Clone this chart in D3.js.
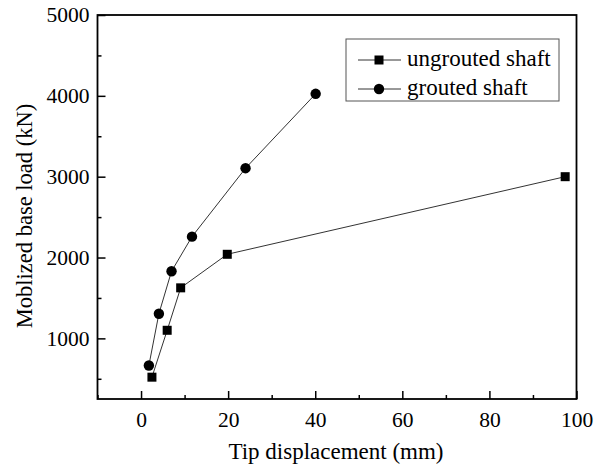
<!DOCTYPE html>
<html>
<head>
<meta charset="utf-8">
<script src="https://cdn.jsdelivr.net/npm/d3@7"></script>
<style>
  body { margin: 0; background: #fff; }
</style>
</head>
<body>
<svg width="603" height="468"></svg>
<script>
var width = 603, height = 468;
var FONT = "Liberation Serif";

// values
var ungroutedX = [2.5, 6, 9.1, 19.8, 97.4];
var ungroutedY = [520, 1100, 1625, 2040, 3000];
var groutedX = [1.8, 4.1, 7, 11.7, 24, 40.1];
var groutedY = [665, 1305, 1830, 2258, 3105, 4025];
var xTicks = [0, 20, 40, 60, 80, 100];
var yTicks = [1000, 2000, 3000, 4000, 5000];
var seriesNames = ["ungrouted shaft", "grouted shaft"];

var margin = {left: 97.5, right: 26.5, top: 15, bottom: 69};
var svg = d3.select("svg");

var x = d3.scaleLinear().domain([-10, 100]).range([margin.left, width - margin.right]);
var y = d3.scaleLinear().domain([250, 5000]).range([height - margin.bottom, margin.top]);

var g = svg.append("g");

// minor ticks first
var xMinor = d3.range(-10, 101, 10).filter(function (d) { return xTicks.indexOf(d) < 0; });
var yMinor = d3.range(500, 5001, 500).filter(function (d) { return yTicks.indexOf(d) < 0; });

g.append("g")
    .attr("transform", "translate(0," + y.range()[0] + ")")
    .call(d3.axisBottom(x).tickValues(xMinor).tickSize(-4).tickFormat(""));
g.append("g")
    .attr("transform", "translate(" + x.range()[0] + ",0)")
    .call(d3.axisLeft(y).tickValues(yMinor).tickSize(-4).tickFormat(""));

g.append("g")
    .attr("transform", "translate(0," + y.range()[0] + ")")
    .call(d3.axisBottom(x).tickValues(xTicks).tickSize(-8).tickPadding(13).tickFormat(d3.format("d")));
g.append("g")
    .attr("transform", "translate(" + x.range()[0] + ",0)")
    .call(d3.axisLeft(y).tickValues(yTicks).tickSize(-8).tickPadding(8).tickFormat(d3.format("d")));

svg.selectAll(".domain").remove();
svg.selectAll(".tick line").attr("stroke", "#000").attr("stroke-width", 1.5);
svg.selectAll(".tick text")
    .attr("font-size", 21.5)
    .attr("font-family", FONT)
    .attr("fill", "#000");

// frame
g.append("rect")
    .attr("x", x.range()[0]).attr("y", y.range()[1])
    .attr("width", x.range()[1] - x.range()[0])
    .attr("height", y.range()[0] - y.range()[1])
    .attr("fill", "none").attr("stroke", "#000").attr("stroke-width", 1.8);

// axis titles
svg.append("text")
    .attr("x", 336)
    .attr("y", 459)
    .attr("text-anchor", "middle")
    .attr("font-family", FONT)
    .attr("font-size", 23)
    .text("Tip displacement (mm)");
svg.append("text")
    .attr("transform", "translate(32,216) rotate(-90)")
    .attr("text-anchor", "middle")
    .attr("font-family", FONT)
    .attr("font-size", 22.5)
    .text("Moblized base load (kN)");

var line = d3.line().x(function (d) { return x(d[0]); }).y(function (d) { return y(d[1]); });
var ungrouted = d3.zip(ungroutedX, ungroutedY);
var grouted = d3.zip(groutedX, groutedY);

g.append("path").datum(ungrouted).attr("d", line)
    .attr("fill", "none").attr("stroke", "#333").attr("stroke-width", 1);
g.append("path").datum(grouted).attr("d", line)
    .attr("fill", "none").attr("stroke", "#333").attr("stroke-width", 1);

var sq = 9;
g.selectAll("rect.pt").data(ungrouted).enter().append("rect")
    .attr("class", "pt")
    .attr("x", function (d) { return x(d[0]) - sq / 2; })
    .attr("y", function (d) { return y(d[1]) - sq / 2; })
    .attr("width", sq).attr("height", sq).attr("fill", "#000");
g.selectAll("circle.pt").data(grouted).enter().append("circle")
    .attr("class", "pt")
    .attr("cx", function (d) { return x(d[0]); })
    .attr("cy", function (d) { return y(d[1]); })
    .attr("r", 5.2).attr("fill", "#000");

// legend
var lg = svg.append("g").attr("transform", "translate(346,39)");
lg.append("rect").attr("width", 213).attr("height", 62)
    .attr("fill", "#fff").attr("stroke", "#555").attr("stroke-width", 1);
seriesNames.forEach(function (name, i) {
    var cy = 21 + i * 29;
    lg.append("line").attr("x1", 12).attr("x2", 55).attr("y1", cy).attr("y2", cy)
        .attr("stroke", "#333").attr("stroke-width", 1);
    if (i === 0) {
        lg.append("rect").attr("x", 33 - sq / 2).attr("y", cy - sq / 2)
            .attr("width", sq).attr("height", sq).attr("fill", "#000");
    } else {
        lg.append("circle").attr("cx", 33).attr("cy", cy).attr("r", 5.2).attr("fill", "#000");
    }
    lg.append("text").attr("x", 61).attr("y", cy + 6)
        .attr("font-family", FONT)
        .attr("font-size", 23).text(name);
});
</script>
</body>
</html>
